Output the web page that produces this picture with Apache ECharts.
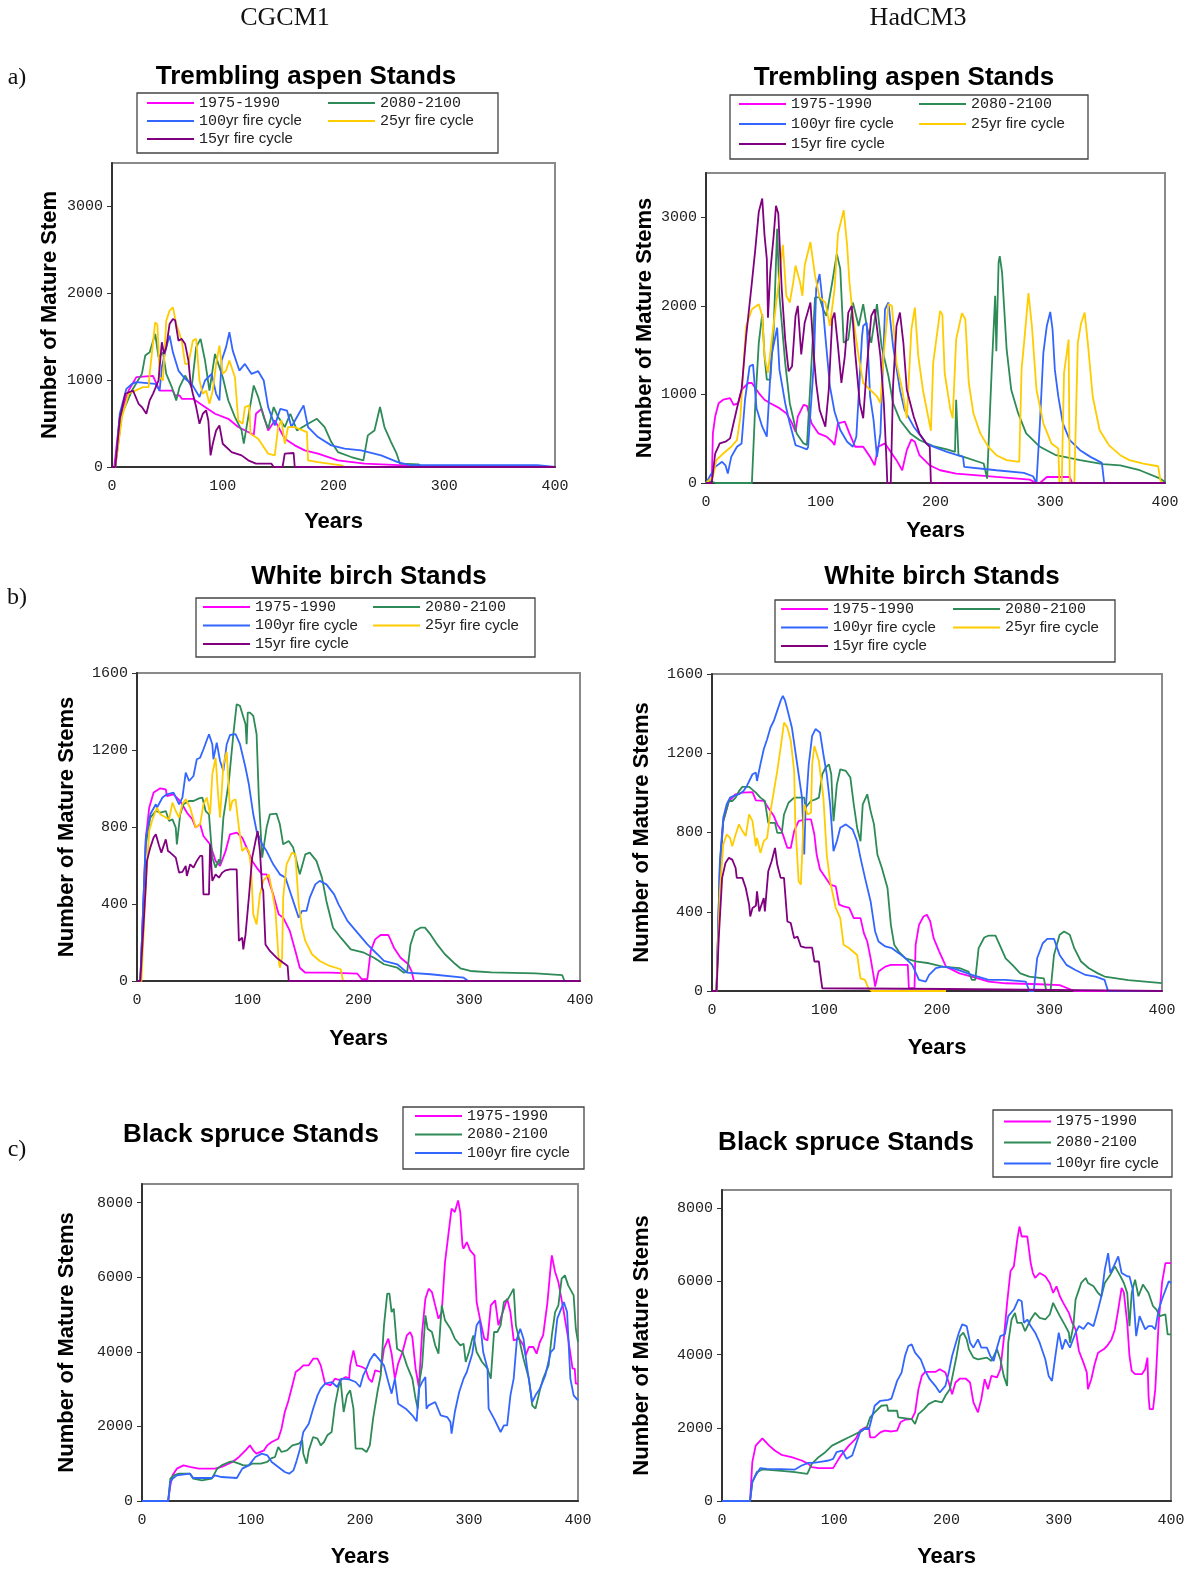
<!DOCTYPE html>
<html><head><meta charset="utf-8">
<script src="https://cdn.jsdelivr.net/npm/echarts@6/dist/echarts.min.js"></script>
<style>html,body{margin:0;padding:0;background:#fff}#c{width:1196px;height:1569px}</style>
</head><body><div id="c"></div>
<script>
// ---------- DATA (years, mature stems) ----------
const NAMES = ['1975-1990','2080-2100','100yr fire cycle','25yr fire cycle','15yr fire cycle'];
const xTicks = [0,100,200,300,400];

// a) Trembling aspen, CGCM1
const aL_1975 = [[0,0],[2,0],[7,575],[15,880],[22,1035],[37,1050],[43,880],[55,880],[57,823],[61,823],[63,785],[73,785],[84,690],[93,613],[105,555],[114,460],[126,383],[128,370],[130,613],[135,670],[141,420],[147,536],[156,325],[165,249],[174,192],[186,153],[204,77],[228,38],[264,19],[272,0],[400,0]];
const aL_2080 = [[0,0],[3,0],[9,613],[18,880],[27,1072],[30,1283],[34,1321],[39,1532],[42,1264],[46,1321],[49,1072],[54,920],[58,766],[61,920],[66,1053],[72,920],[76,1380],[80,1475],[84,1226],[88,880],[93,1302],[96,1187],[100,1034],[105,766],[111,575],[117,421],[119,268],[123,575],[128,938],[132,805],[137,575],[141,440],[146,690],[150,575],[156,460],[161,613],[167,421],[177,498],[185,555],[192,460],[198,287],[204,172],[216,115],[227,77],[231,364],[237,421],[242,690],[246,460],[252,287],[257,153],[260,38],[277,30],[280,0],[400,0]];
const aL_100 = [[0,0],[3,0],[7,613],[13,900],[18,957],[22,977],[39,957],[43,880],[45,1149],[49,1380],[52,1513],[55,1320],[60,1110],[66,1015],[72,957],[79,805],[84,996],[90,1072],[94,843],[97,766],[99,1226],[103,1380],[106,1551],[109,1340],[115,1110],[120,1187],[126,1072],[132,1103],[137,996],[141,690],[147,479],[152,670],[158,650],[162,460],[167,575],[173,709],[177,460],[186,345],[198,249],[210,211],[225,192],[243,134],[258,57],[270,20],[384,20],[385,0],[400,0]];
const aL_25 = [[0,0],[3,0],[9,575],[15,843],[21,880],[28,920],[33,920],[34,1072],[39,1666],[41,1640],[43,1034],[46,996],[49,1685],[52,1800],[55,1838],[58,1647],[63,1455],[66,1187],[69,1187],[73,1455],[76,1475],[79,996],[82,843],[85,880],[88,728],[91,880],[94,1187],[97,1398],[100,1072],[103,1110],[106,1226],[111,1034],[114,536],[118,498],[120,690],[124,709],[125,383],[132,326],[141,153],[147,134],[150,460],[153,536],[156,268],[159,460],[165,460],[176,402],[177,77],[186,57],[207,19],[210,0],[400,0]];
const aL_15 = [[0,0],[3,0],[7,555],[12,843],[19,880],[24,728],[27,690],[31,613],[34,766],[37,843],[42,996],[45,1436],[47,1302],[49,1380],[52,1647],[55,1705],[57,1690],[60,1455],[63,1475],[66,1417],[69,1226],[71,957],[73,843],[76,690],[79,498],[82,613],[85,651],[87,536],[89,134],[91,268],[94,421],[97,479],[100,268],[108,172],[117,134],[123,77],[130,38],[144,38],[146,0],[154,0],[156,153],[164,161],[165,0],[400,0]];

// a) Trembling aspen, HadCM3
const aR_1975 = [[0,0],[5,0],[6,560],[8,750],[11,900],[15,940],[21,958],[24,883],[28,900],[31,1053],[37,1129],[40,1129],[46,1015],[51,940],[56,900],[64,845],[70,788],[75,674],[78,580],[80,750],[85,883],[88,870],[92,674],[98,560],[105,523],[110,466],[112,428],[115,674],[121,693],[125,560],[130,409],[137,409],[143,295],[147,200],[150,409],[156,447],[160,371],[166,258],[171,144],[175,371],[179,492],[182,466],[186,314],[195,200],[204,144],[218,106],[253,68],[282,38],[288,0],[291,0],[297,68],[317,68],[319,0],[400,0]];
const aR_2080 = [[0,0],[3,20],[9,0],[40,0],[43,901],[46,1583],[49,1905],[51,1432],[53,1167],[56,1167],[59,1735],[62,2871],[64,2114],[69,1356],[73,901],[79,560],[85,447],[88,430],[91,1129],[95,2095],[99,2095],[102,1962],[105,1886],[110,2265],[114,2587],[117,2417],[120,1583],[124,1621],[128,2038],[133,1773],[137,2019],[140,1773],[144,1583],[149,2019],[153,1545],[159,1205],[163,901],[169,712],[178,560],[186,485],[198,417],[210,380],[217,352],[218,940],[220,314],[242,220],[245,49],[249,1280],[252,2114],[253,1489],[255,2492],[256,2561],[258,2379],[262,1508],[266,1053],[272,788],[279,560],[291,409],[305,314],[326,258],[346,212],[361,200],[378,144],[396,49],[400,11]];
const aR_100 = [[0,0],[3,68],[8,182],[14,239],[17,200],[19,106],[22,295],[27,409],[31,447],[34,940],[38,1318],[41,1337],[44,845],[49,636],[53,523],[54,505],[57,1432],[62,1754],[64,1280],[69,901],[73,674],[78,428],[82,409],[88,379],[89,409],[94,1356],[96,2190],[99,2360],[101,2114],[104,1659],[108,1091],[112,807],[117,598],[123,466],[128,409],[131,523],[136,1659],[137,1773],[140,1810],[143,977],[146,712],[149,295],[152,560],[156,1962],[159,2038],[163,1545],[169,1053],[173,826],[181,636],[192,447],[198,410],[210,352],[224,295],[225,182],[253,144],[277,114],[285,76],[288,0],[291,674],[294,1470],[297,1773],[300,1932],[302,1735],[304,1280],[307,977],[311,674],[317,485],[326,371],[335,295],[345,227],[347,0],[400,0]];
const aR_25 = [[0,0],[6,68],[9,258],[15,333],[22,409],[27,485],[30,750],[33,1394],[35,1773],[40,1962],[46,2019],[49,1886],[51,1432],[54,1242],[57,1583],[63,2227],[67,2690],[70,2114],[73,2038],[76,2265],[78,2455],[82,2265],[84,2114],[86,2455],[91,2720],[95,2341],[99,2095],[104,2038],[108,1773],[112,2190],[115,2814],[120,3080],[123,2682],[125,2265],[128,1886],[133,1432],[137,1129],[143,1053],[149,977],[152,901],[155,1470],[159,2019],[162,2000],[166,1356],[171,1053],[175,731],[179,1735],[182,1981],[185,1432],[189,1053],[196,590],[198,1356],[204,1943],[206,1900],[208,1242],[213,826],[215,731],[218,1621],[223,1917],[226,1849],[229,1129],[233,788],[239,560],[246,409],[253,314],[262,258],[273,239],[275,1280],[278,1697],[281,2144],[284,1773],[288,1053],[294,674],[301,447],[307,390],[308,0],[310,0],[312,1240],[316,1620],[317,0],[321,0],[324,1583],[327,1810],[330,1924],[333,1545],[337,977],[343,598],[351,428],[361,314],[369,258],[381,220],[394,189],[396,30],[398,0],[400,0]];
const aR_15 = [[0,0],[5,0],[8,333],[12,447],[17,466],[21,504],[24,674],[28,901],[31,1053],[35,1659],[40,2265],[43,2644],[46,3061],[49,3212],[51,2796],[53,2531],[54,1867],[56,2379],[59,2796],[61,3129],[63,3042],[66,2190],[69,1621],[72,1261],[75,1318],[78,1886],[80,2000],[83,1451],[86,1810],[91,2038],[94,1432],[96,1129],[99,826],[104,636],[107,1053],[110,1849],[112,1924],[115,1545],[118,1129],[121,1432],[124,1924],[127,2000],[130,1470],[134,901],[137,731],[140,1280],[144,1886],[147,1962],[152,1432],[155,901],[157,333],[158,0],[161,0],[163,1091],[166,1773],[169,1924],[172,1583],[175,1053],[181,750],[186,560],[192,447],[195,409],[196,0],[400,0]];

// b) White birch, CGCM1
const bL_1975 = [[0,0],[3,0],[8,745],[11,900],[15,979],[21,1001],[26,995],[27,961],[33,970],[39,935],[45,875],[50,840],[53,797],[57,814],[60,753],[66,710],[71,623],[75,598],[80,675],[84,762],[90,771],[95,745],[99,693],[104,623],[108,589],[113,554],[117,554],[123,450],[128,346],[132,329],[138,260],[143,156],[147,69],[152,43],[174,43],[199,38],[203,9],[208,9],[211,156],[215,216],[220,239],[227,239],[232,173],[238,121],[245,87],[248,50],[250,0],[400,0]];
const bL_2080 = [[0,0],[3,0],[8,710],[12,849],[17,883],[21,875],[26,883],[29,831],[32,840],[35,797],[36,710],[39,866],[42,918],[47,935],[51,935],[56,949],[59,953],[62,883],[65,866],[68,641],[71,589],[74,632],[75,606],[78,849],[83,1039],[87,1282],[90,1438],[93,1429],[98,1334],[99,1230],[100,1394],[102,1394],[105,1377],[108,1282],[110,953],[113,641],[114,641],[117,797],[120,866],[126,869],[129,814],[132,710],[137,727],[141,693],[144,624],[147,554],[152,658],[156,667],[162,624],[167,537],[171,416],[177,277],[184,225],[193,164],[205,147],[214,121],[223,87],[235,69],[241,43],[244,50],[247,190],[251,260],[256,277],[260,277],[265,242],[271,190],[278,139],[286,95],[292,66],[301,52],[320,45],[360,40],[384,30],[386,0],[400,0]];
const bL_100 = [[0,0],[3,0],[8,745],[12,866],[17,918],[18,900],[23,953],[27,970],[33,979],[38,918],[41,953],[44,1083],[47,1039],[51,1065],[54,1152],[57,1160],[60,1204],[65,1282],[68,1230],[69,1152],[72,1238],[75,1143],[78,1091],[81,1230],[84,1278],[89,1282],[93,1230],[98,1108],[101,1022],[105,866],[108,779],[113,710],[117,675],[123,606],[129,554],[134,537],[138,468],[143,381],[146,329],[149,364],[153,364],[156,433],[161,502],[165,520],[171,502],[178,450],[182,398],[190,312],[199,251],[208,190],[217,139],[223,104],[235,87],[244,43],[265,35],[295,17],[299,0],[400,0]];
const bL_25 = [[0,0],[4,0],[8,502],[11,779],[14,840],[18,900],[21,866],[26,849],[29,840],[32,927],[35,883],[38,849],[41,918],[44,944],[48,900],[53,797],[57,814],[60,918],[63,953],[66,866],[68,1074],[71,1160],[73,987],[75,849],[78,1126],[81,1191],[84,883],[86,935],[89,944],[92,797],[95,675],[98,693],[101,675],[103,589],[105,346],[108,294],[111,450],[114,520],[119,554],[122,468],[125,364],[128,104],[129,69],[131,121],[132,433],[135,606],[140,667],[143,658],[146,398],[149,277],[152,208],[158,139],[165,104],[174,78],[184,61],[186,0],[400,0]];
const bL_15 = [[0,0],[3,0],[8,502],[9,624],[12,693],[15,745],[17,762],[20,701],[22,667],[26,736],[28,675],[30,667],[35,641],[38,563],[41,567],[44,598],[45,546],[48,606],[51,589],[54,624],[57,650],[59,650],[60,450],[65,450],[66,710],[68,520],[71,554],[74,537],[77,563],[80,575],[84,580],[90,580],[92,208],[95,225],[96,164],[98,242],[101,433],[104,641],[107,727],[109,779],[111,675],[113,485],[114,468],[116,190],[120,156],[126,121],[132,95],[136,78],[137,0],[400,0]];

// b) White birch, HadCM3
const bR_1975 = [[0,0],[4,0],[7,604],[10,857],[15,959],[21,993],[27,1001],[36,1004],[39,962],[46,960],[50,925],[55,883],[58,841],[62,807],[67,722],[70,722],[73,807],[77,857],[83,866],[88,866],[91,790],[93,689],[96,613],[101,571],[105,537],[110,528],[113,436],[117,427],[122,419],[126,368],[132,368],[135,292],[138,250],[141,165],[144,64],[145,22],[148,98],[154,123],[159,132],[174,132],[175,14],[180,14],[181,233],[184,334],[188,376],[191,385],[194,351],[197,267],[202,199],[208,123],[220,89],[231,73],[246,47],[261,39],[291,34],[309,30],[320,5],[322,0],[400,0]];
const bR_2080 = [[0,0],[4,0],[7,638],[10,857],[15,959],[18,959],[21,976],[24,1009],[27,1030],[33,1030],[39,1001],[43,976],[47,959],[50,849],[56,849],[58,798],[62,798],[64,891],[68,950],[73,976],[82,976],[83,925],[88,959],[92,967],[95,976],[98,1094],[101,1128],[104,1144],[106,1094],[108,857],[111,1043],[114,1119],[119,1111],[123,1077],[126,942],[129,824],[132,756],[134,942],[138,993],[141,908],[144,841],[147,689],[151,621],[156,520],[159,334],[162,233],[166,199],[172,165],[181,149],[193,140],[205,123],[220,115],[228,98],[231,56],[234,56],[237,216],[242,270],[246,280],[252,280],[257,216],[261,165],[267,132],[274,89],[282,73],[295,64],[297,5],[301,5],[304,182],[309,284],[313,300],[318,284],[322,216],[328,149],[335,115],[343,89],[349,73],[370,55],[400,40]];
const bR_100 = [[0,0],[4,0],[7,655],[10,874],[13,942],[16,976],[19,984],[24,993],[28,1009],[31,1035],[36,1094],[39,1102],[40,1060],[43,1144],[46,1220],[49,1271],[52,1330],[55,1364],[58,1415],[61,1465],[63,1490],[65,1465],[68,1398],[71,1330],[74,1212],[77,1094],[80,976],[82,689],[83,891],[86,1144],[89,1288],[92,1322],[96,1305],[99,1195],[102,1094],[105,942],[108,706],[111,756],[114,824],[119,841],[125,815],[129,756],[132,672],[136,571],[141,452],[145,300],[148,250],[154,225],[160,216],[166,191],[172,165],[178,132],[184,56],[190,47],[193,81],[199,115],[205,123],[214,115],[223,98],[231,81],[246,56],[261,56],[279,47],[282,0],[286,0],[289,165],[294,241],[298,263],[304,263],[309,182],[315,132],[323,106],[332,81],[341,73],[349,56],[352,0],[400,0]];
const bR_25 = [[0,0],[4,0],[7,503],[10,739],[13,790],[16,773],[18,731],[21,790],[24,841],[27,807],[30,782],[33,891],[36,857],[39,731],[40,773],[43,697],[46,756],[49,773],[52,908],[55,1009],[58,1111],[61,1229],[64,1355],[67,1330],[70,1263],[73,1111],[74,857],[77,554],[79,537],[81,807],[82,942],[85,891],[88,900],[89,1144],[91,1237],[95,1161],[99,976],[102,689],[105,554],[110,419],[114,368],[117,233],[122,216],[129,182],[132,64],[136,56],[139,14],[142,0],[208,0]];
const bR_15 = [[0,0],[4,0],[6,267],[9,571],[12,646],[15,672],[18,663],[21,621],[22,571],[27,571],[30,520],[33,436],[34,376],[36,419],[39,430],[40,503],[42,402],[43,402],[46,469],[47,402],[50,604],[53,655],[56,722],[58,638],[61,571],[64,571],[67,351],[70,343],[73,267],[76,275],[79,225],[83,219],[89,219],[91,149],[95,149],[96,98],[98,14],[208,10],[209,0],[400,0]];

// c) Black spruce, CGCM1
const cL_1975 = [[0,0],[24,0],[26,420],[28,688],[32,867],[38,956],[44,912],[52,867],[67,867],[73,912],[83,1046],[89,1180],[95,1358],[99,1492],[102,1358],[105,1269],[112,1358],[115,1492],[119,1582],[125,1671],[128,1939],[131,2386],[134,2654],[138,3101],[141,3458],[145,3548],[148,3637],[153,3637],[157,3816],[161,3816],[164,3637],[168,3146],[173,3101],[177,3280],[182,3235],[187,3325],[190,3280],[191,3637],[194,4039],[197,3637],[202,3593],[205,3548],[208,3280],[211,3190],[214,3503],[219,3459],[222,4084],[226,4352],[229,3950],[232,3280],[235,3682],[239,3995],[243,4442],[246,4531],[248,4400],[251,3548],[254,3056],[257,4531],[260,5425],[263,5693],[266,5603],[269,5246],[272,4889],[275,5067],[278,6408],[281,7123],[284,7838],[287,7748],[290,8061],[292,7748],[294,6855],[295,6765],[298,6944],[301,6721],[305,6587],[307,5335],[310,4889],[314,4352],[317,4308],[320,5246],[324,5380],[327,4710],[330,4978],[335,5425],[338,5067],[341,4308],[346,4352],[350,4174],[352,3905],[355,4130],[359,4129],[362,3950],[365,4263],[368,4442],[372,5335],[375,6318],[376,6587],[379,6140],[382,5871],[387,5067],[391,4352],[395,3548],[397,3548],[398,3146],[400,3146]];
const cL_2080 = [[0,0],[24,0],[26,599],[29,688],[34,733],[44,733],[47,599],[55,554],[64,599],[69,867],[73,956],[80,1046],[83,1060],[89,1000],[93,956],[98,956],[101,1001],[109,1001],[115,1046],[118,1135],[122,1180],[125,1448],[128,1314],[133,1358],[138,1492],[144,1537],[147,1627],[148,1269],[151,1001],[153,1358],[157,1716],[161,1671],[164,1492],[167,1582],[170,1761],[174,1850],[177,2565],[180,3012],[182,3280],[185,2386],[188,2833],[191,2967],[194,2476],[196,1403],[202,1403],[206,1314],[209,1492],[212,2207],[216,2922],[219,3369],[222,4710],[225,5559],[227,5559],[229,5067],[231,5157],[234,4084],[239,3995],[243,3637],[248,3280],[251,2744],[253,2476],[255,3280],[257,3637],[260,4978],[262,4620],[266,4531],[269,4174],[272,3950],[275,5246],[278,4844],[283,4620],[287,4352],[292,4174],[295,4218],[297,3727],[300,3995],[303,4352],[304,4440],[307,3995],[312,3727],[317,3548],[320,3280],[323,4531],[326,4531],[329,4710],[332,5335],[336,5425],[341,5693],[343,4710],[346,4352],[350,3816],[355,3280],[358,2565],[361,2476],[365,2967],[368,3280],[373,3637],[376,4442],[379,5067],[382,5246],[385,5961],[388,6050],[391,5782],[396,5514],[398,4620],[400,4263]];
const cL_100 = [[0,0],[24,0],[26,509],[28,599],[32,688],[44,733],[47,617],[64,617],[67,690],[73,643],[87,617],[92,867],[98,956],[104,1180],[110,1269],[115,1224],[119,1046],[125,912],[131,778],[135,733],[139,822],[142,1090],[145,1403],[148,1850],[153,2073],[157,2476],[161,2833],[164,3012],[168,3146],[174,3190],[179,3056],[183,3280],[190,3260],[196,3190],[200,3056],[203,3369],[206,3548],[209,3771],[213,3950],[217,3816],[222,3637],[226,3190],[229,2878],[232,3280],[235,2610],[242,2476],[248,2297],[252,2136],[254,3012],[257,3190],[260,3325],[261,2476],[263,2565],[269,2654],[274,2297],[280,2252],[283,2118],[284,1805],[287,2386],[291,2922],[295,3280],[298,3459],[303,3950],[307,4710],[310,4844],[313,3995],[317,3548],[318,2476],[323,2207],[329,1850],[332,2029],[335,2029],[338,2833],[341,3280],[344,4352],[347,4620],[350,4352],[353,3637],[358,2654],[361,2833],[365,3012],[370,3369],[375,3995],[378,4084],[381,4889],[387,5335],[390,5067],[393,3280],[396,2833],[400,2699]];

// c) Black spruce, HadCM3
const cR_1975 = [[0,0],[25,0],[27,1061],[30,1515],[36,1714],[42,1515],[47,1379],[53,1261],[62,1197],[71,1107],[77,1016],[80,925],[86,898],[99,898],[104,1152],[107,1288],[113,1515],[119,1696],[123,1923],[128,2014],[131,1990],[132,1741],[136,1741],[141,1877],[145,1923],[151,1900],[156,1923],[159,2150],[163,2222],[169,2240],[172,2422],[175,3057],[178,3419],[181,3528],[190,3528],[194,3601],[199,3510],[202,3238],[205,2920],[208,3238],[212,3347],[217,3347],[221,3238],[224,2694],[228,2422],[231,2784],[234,3329],[237,3057],[240,3419],[245,3380],[248,3601],[251,4417],[254,5415],[257,6276],[260,6413],[263,7138],[265,7501],[267,7229],[272,7229],[275,6503],[277,6231],[279,6095],[283,6231],[288,6140],[292,5959],[295,5687],[298,5868],[301,5596],[304,5415],[309,5143],[312,4871],[315,4689],[318,4100],[322,3782],[325,3510],[326,3057],[329,3329],[332,3737],[335,4054],[340,4145],[343,4236],[347,4417],[350,4689],[353,5233],[356,5823],[358,5700],[361,4871],[363,3964],[365,3555],[368,3465],[374,3465],[377,3601],[379,3918],[380,2875],[381,2512],[384,2512],[386,3057],[389,4871],[392,5959],[395,6503],[400,6503]];
const cR_2080 = [[0,0],[25,0],[27,517],[31,789],[36,862],[53,825],[65,789],[76,744],[80,1016],[86,1197],[92,1333],[98,1515],[107,1651],[113,1741],[119,1832],[125,1923],[129,2014],[132,2286],[136,2422],[142,2603],[147,2620],[148,2467],[156,2467],[157,2286],[169,2240],[172,2104],[175,2376],[180,2512],[184,2648],[190,2739],[196,2694],[199,2875],[203,3057],[206,3510],[209,3964],[212,4508],[215,4599],[218,4417],[220,4145],[224,3918],[228,3873],[236,3918],[240,3828],[245,4145],[248,3873],[251,3419],[254,3147],[255,4326],[258,4961],[261,5143],[263,4871],[267,4871],[270,4644],[275,4961],[279,5143],[283,5007],[288,4961],[292,5097],[295,5415],[298,5233],[301,5052],[306,4780],[309,4599],[310,4326],[313,4780],[315,5506],[318,5778],[320,5959],[324,6095],[326,5959],[331,5868],[335,5687],[338,5596],[341,5959],[346,6186],[350,6413],[355,6140],[358,5959],[361,5687],[363,4780],[365,5687],[368,6050],[371,5596],[375,5914],[380,5687],[384,5324],[387,5233],[390,5052],[395,5100],[397,4553],[400,4553]];
const cR_100 = [[0,0],[25,0],[27,517],[30,698],[34,898],[40,880],[53,870],[65,860],[71,970],[77,1043],[83,1050],[89,1079],[95,1107],[99,1152],[102,1333],[107,1379],[111,1152],[116,1243],[119,1515],[123,1877],[126,1968],[131,1968],[134,2331],[136,2603],[141,2739],[148,2766],[151,2800],[156,3283],[160,3510],[163,3964],[166,4236],[169,4281],[172,4054],[177,3873],[181,3555],[185,3329],[190,3147],[194,2966],[199,3147],[202,3510],[205,3964],[208,4281],[211,4599],[214,4825],[218,4780],[221,4326],[224,4190],[228,4417],[231,4190],[236,4190],[239,3964],[242,3828],[245,4190],[248,4508],[252,4553],[255,5052],[260,5233],[264,5506],[267,5460],[269,4871],[272,4960],[275,4780],[279,4599],[283,4326],[288,3873],[291,3419],[294,3283],[297,3964],[300,4599],[303,4145],[306,4417],[310,4190],[315,4599],[318,4780],[322,4700],[326,4871],[331,4780],[335,5233],[338,5596],[341,6322],[344,6775],[346,6231],[349,6413],[353,6685],[356,6231],[361,6140],[363,6140],[366,5778],[369,4508],[372,5052],[377,4689],[380,4780],[383,4780],[386,4689],[389,5233],[393,5596],[398,6004],[400,5959]];

// ---------- STYLE / LAYOUT ----------
const COLORS = {'1975-1990':'#ff00ff','2080-2100':'#2e8b57','100yr fire cycle':'#3366ff','25yr fire cycle':'#ffcc00','15yr fire cycle':'#800080'};
const MONO = 'Liberation Mono', SANS = 'Liberation Sans';

const panels = [
  {grid:{left:112,top:163,width:443,height:304}, ymax:3500, yint:1000, yname:'Number of Mature Stem', yGap:51, xGap:44,
   data:[aL_1975,aL_2080,aL_100,aL_25,aL_15],
   title:['Trembling aspen Stands',306,77], box:[137,93,361,60], legTop:95.5, legGap:3, cols:[[147,[0,2,4]],[328,[1,3]]]},
  {grid:{left:706,top:173,width:459,height:310}, ymax:3500, yint:1000, yname:'Number of Mature Stems', yGap:50, xGap:37,
   data:[aR_1975,aR_2080,aR_100,aR_25,aR_15],
   title:['Trembling aspen Stands',904,78], box:[730,95,358,64], legTop:96.5, legGap:5, cols:[[739,[0,2,4]],[919,[1,3]]]},
  {grid:{left:137,top:673,width:443,height:308}, ymax:1600, yint:400, yname:'Number of Mature Stems', yGap:59, xGap:47,
   data:[bL_1975,bL_2080,bL_100,bL_25,bL_15],
   title:['White birch Stands',369,577], box:[196,598,339,59], legTop:599.5, legGap:3.5, cols:[[203,[0,2,4]],[373,[1,3]]]},
  {grid:{left:712,top:674,width:450,height:317}, ymax:1600, yint:400, yname:'Number of Mature Stems', yGap:59, xGap:46,
   data:[bR_1975,bR_2080,bR_100,bR_25,bR_15],
   title:['White birch Stands',942,577], box:[775,600,340,62], legTop:601.5, legGap:3.5, cols:[[781,[0,2,4]],[953,[1,3]]]},
  {grid:{left:142,top:1184,width:436,height:318}, ymax:8500, yint:2000, yname:'Number of Mature Stems', yGap:64, xGap:45,
   data:[cL_1975,cL_2080,cL_100],
   title:['Black spruce Stands',251,1135], box:[403,1107,181,62], legTop:1108.5, legGap:3.5, cols:[[415,[0,1,2]]]},
  {grid:{left:722,top:1190,width:449,height:314}, ymax:8500, yint:2000, yname:'Number of Mature Stems', yGap:69, xGap:45,
   data:[cR_1975,cR_2080,cR_100],
   title:['Black spruce Stands',846,1143], box:[993,1110,179,67], legTop:1114, legGap:6, cols:[[1004,[0,1,2]]]}
];

const grids=[], xAxes=[], yAxes=[], series=[], legends=[], graphics=[];
const labelStyle = {fontFamily:MONO, fontSize:15, color:'#222', formatter: v => String(v)};
const axisNameStyle = {fontFamily:SANS, fontWeight:'bold', fontSize:22, color:'#000'};

panels.forEach((p,i)=>{
  grids.push(Object.assign({show:true, borderColor:'#8a8a8a', borderWidth:2, backgroundColor:'#fff'}, p.grid));
  xAxes.push({gridIndex:i, type:'value', min:xTicks[0], max:xTicks[xTicks.length-1], interval:100,
    name:'Years', nameLocation:'middle', nameGap:p.xGap, nameTextStyle:axisNameStyle,
    axisLine:{show:true, lineStyle:{color:'#333', width:2}}, axisTick:{show:false},
    axisLabel:{margin:12, ...labelStyle}, splitLine:{show:false}});
  yAxes.push({gridIndex:i, type:'value', min:0, max:p.ymax, interval:p.yint,
    name:p.yname, nameLocation:'middle', nameRotate:90, nameGap:p.yGap, nameTextStyle:axisNameStyle,
    axisLine:{show:true, lineStyle:{color:'#333', width:2}}, axisTick:{show:true, length:5, lineStyle:{color:'#333'}},
    axisLabel:{margin:9, showMaxLabel: p.ymax % p.yint === 0, ...labelStyle}, splitLine:{show:false}});
  p.data.forEach((d,k)=>{
    const nm = NAMES[k];
    series.push({type:'line', name:nm, xAxisIndex:i, yAxisIndex:i, data:d, symbol:'none', showSymbol:false,
      color:COLORS[nm], itemStyle:{color:COLORS[nm]}, lineStyle:{color:COLORS[nm], width:1.8}, animation:false, z:2+k});
  });
  p.cols.forEach(([left, idxs])=>{
    legends.push({left:left, top:p.legTop, orient:'vertical', padding:0, itemGap:p.legGap, itemWidth:47, itemHeight:2,
      itemTextGap:5, icon:'rect', selectedMode:false, data:idxs.map(k=>NAMES[k]),
      formatter: name => { const m = name.match(/^([0-9\-]+)(.*)$/); return m[2] ? '{n|'+m[1]+'}{t|'+m[2]+'}' : '{n|'+m[1]+'}'; },
      textStyle:{rich:{n:{fontFamily:MONO, fontSize:15, color:'#222', lineHeight:16}, t:{fontFamily:SANS, fontSize:15, color:'#222', lineHeight:16}}}});
  });
  graphics.push({type:'rect', shape:{x:p.box[0], y:p.box[1], width:p.box[2], height:p.box[3]}, style:{fill:'none', stroke:'#444', lineWidth:1.3}, z:1});
  graphics.push({type:'text', x:p.title[1], y:p.title[2], style:{text:p.title[0], font:'bold 26px "Liberation Sans"', fill:'#000', align:'center', verticalAlign:'middle'}});
});

// column headers and panel letters
[['CGCM1',285,18],['HadCM3',918,18]].forEach(([t,x,y])=>graphics.push({type:'text', x, y, style:{text:t, font:'26px "Liberation Serif"', fill:'#111', align:'center', verticalAlign:'middle'}}));
[['a)',17,78],['b)',17,598],['c)',17,1150]].forEach(([t,x,y])=>graphics.push({type:'text', x, y, style:{text:t, font:'24px "Liberation Serif"', fill:'#111', align:'center', verticalAlign:'middle'}}));

const chart = echarts.init(document.getElementById('c'), null, {renderer:'canvas', width:1196, height:1569});
chart.setOption({backgroundColor:'#fff', animation:false, grid:grids, xAxis:xAxes, yAxis:yAxes, series:series, legend:legends, graphic:graphics});
</script></body></html>
